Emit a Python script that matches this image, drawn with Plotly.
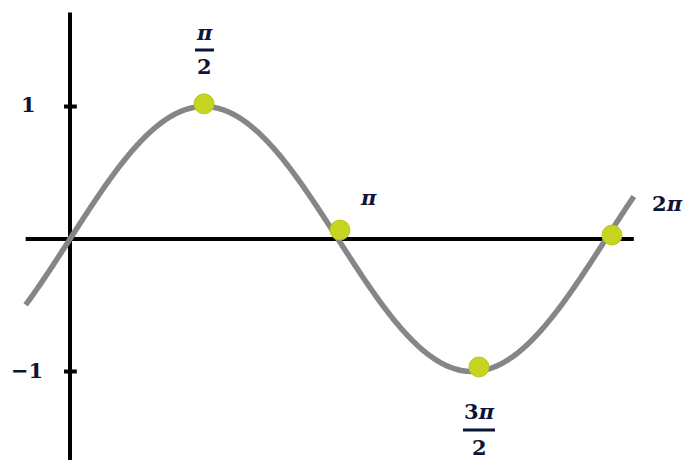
import numpy as np
import plotly.graph_objects as go

W, H = 685, 460

# curve domain (radians) and sampled sine
curve_start, curve_end = -0.52, 6.61
curve_x = np.linspace(curve_start, curve_end, 600)
curve_y = np.sin(curve_x)

# highlighted points as they sit in the picture
point_x = [1.571, 3.165, 4.795, 6.354]
point_y = [1.02, 0.068, -0.966, 0.03]

# axes extents
haxis_x = [-0.52, 6.61]
vaxis_y = [-1.67, 1.71]
tick_vals = [1, -1]

XR = [-0.8206, 7.210]
YR = [-1.668, 1.804]

NAVY = "#0c1538"
FONT = dict(family="DejaVu Serif", size=21, color=NAVY)


def px(x):
    return x / W


def py(y):
    return 1 - y / H


def label(x, y, text):
    fig.add_annotation(x=px(x), y=py(y), xref="paper", yref="paper",
                       xanchor="center", yanchor="middle",
                       text=text, showarrow=False, font=FONT)


fig = go.Figure()

fig.add_trace(go.Scatter(x=haxis_x, y=[0, 0], mode="lines",
                         line=dict(color="black", width=4), hoverinfo="skip"))
fig.add_trace(go.Scatter(x=[0, 0], y=vaxis_y, mode="lines",
                         line=dict(color="black", width=4), hoverinfo="skip"))
for tv in tick_vals:
    fig.add_trace(go.Scatter(x=[-0.07, 0.08], y=[tv, tv], mode="lines",
                             line=dict(color="black", width=4), hoverinfo="skip"))

fig.add_trace(go.Scatter(x=curve_x, y=curve_y, mode="lines",
                         line=dict(color="#868686", width=5.5, simplify=False),
                         hoverinfo="skip"))
fig.add_trace(go.Scatter(x=point_x, y=point_y, mode="markers",
                         marker=dict(size=20, color="#c6d620",
                                     line=dict(color="#b8c81a", width=1))))

# tick labels on the y axis
label(28, 104, "<b>1</b>")
label(27, 370, "<b>\u22121</b>")

# angle labels
label(204, 32, "<b><i>\u03c0</i></b>")
label(204, 67, "<b>2</b>")
fig.add_shape(type="line", xref="paper", yref="paper",
              x0=px(195), x1=px(214), y0=py(50), y1=py(50),
              line=dict(color=NAVY, width=3))

label(368, 198, "<b><i>\u03c0</i></b>")
label(667, 203, "<b>2<i>\u03c0</i></b>")

label(479, 411, "<b>3<i>\u03c0</i></b>")
label(479, 447, "<b>2</b>")
fig.add_shape(type="line", xref="paper", yref="paper",
              x0=px(463), x1=px(495), y0=py(430), y1=py(430),
              line=dict(color=NAVY, width=3))

fig.update_layout(
    width=W, height=H,
    margin=dict(l=0, r=0, t=0, b=0),
    plot_bgcolor="white", paper_bgcolor="white",
    showlegend=False,
    xaxis=dict(range=XR, visible=False, fixedrange=True),
    yaxis=dict(range=YR, visible=False, fixedrange=True),
)

fig.write_html("out.html", config={"displayModeBar": False},
               post_script="document.body.style.margin='0';")
